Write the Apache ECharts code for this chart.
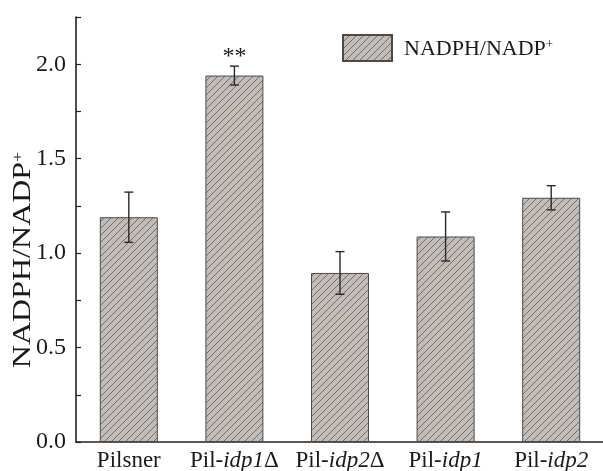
<!DOCTYPE html>
<html>
<head>
<meta charset="utf-8">
<script src="https://cdn.jsdelivr.net/npm/echarts@6/dist/echarts.min.js"></script>
<style>
html, body { margin: 0; padding: 0; background: #fff; }
#main { width: 603px; height: 471px; }
</style>
</head>
<body>
<div id="main"></div>
<script>
// strains on the x axis
var strains = ['Pilsner', 'Pil-{i|idp1}Δ', 'Pil-{i|idp2}Δ', 'Pil-{i|idp1}', 'Pil-{i|idp2}'];
// NADPH/NADP+ ratio, mean and error
var ratio = [1.19, 1.94, 0.895, 1.088, 1.293];
var ratioErr = [0.133, 0.05, 0.113, 0.13, 0.064];
// significance mark above error bar
var marks = ['', '**', '', '', ''];
var yTicks = [0, 0.5, 1.0, 1.5, 2.0];

var font = "'Liberation Serif', 'Times New Roman', serif";

// hatch pattern for the bars
var cv = document.createElement('canvas');
cv.width = 7; cv.height = 7;
var ctx = cv.getContext('2d');
ctx.fillStyle = '#c2bcb8';
ctx.fillRect(0, 0, 7, 7);
ctx.strokeStyle = '#6a6360';
ctx.lineWidth = 0.9;
ctx.beginPath();
ctx.moveTo(-1, 8); ctx.lineTo(8, -1);
ctx.moveTo(-1, 1); ctx.lineTo(1, -1);
ctx.moveTo(6, 8); ctx.lineTo(8, 6);
ctx.stroke();

var errData = [];
for (var i = 0; i < ratio.length; i++) {
  errData.push([i, ratio[i] - ratioErr[i], ratio[i] + ratioErr[i], marks[i]]);
}

var myChart = echarts.init(document.getElementById('main'));
myChart.setOption({
  animation: false,
  textStyle: { fontFamily: font },
  grid: { left: 76, right: -1, top: 17, bottom: 29, outerBoundsMode: 'none', containLabel: false },
  graphic: [{
    type: 'text',
    x: 23, y: 260,
    rotation: Math.PI / 2,
    scaleX: 1.28,
    style: {
      text: 'NADPH/NADP{sup|+}',
      fontFamily: font, fontSize: 25, fill: '#1a1a1a',
      align: 'center', verticalAlign: 'middle',
      rich: { sup: { fontFamily: font, fontSize: 14, fill: '#1a1a1a', padding: [0, 0, 10, 0] } }
    }
  }],
  legend: {
    left: 342, top: 34, padding: 0,
    itemWidth: 49, itemHeight: 26, itemGap: 10,
    icon: 'rect',
    data: ['ratio'],
    formatter: function () { return 'NADPH/NADP{sup|+}'; },
    textStyle: {
      fontFamily: font, fontSize: 22, color: '#1a1a1a', padding: [2, 0, 0, 7],
      rich: { sup: { fontFamily: font, fontSize: 13, color: '#1a1a1a', padding: [0, 0, 9, 0] } }
    }
  },
  xAxis: {
    type: 'category',
    data: strains,
    axisLine: { lineStyle: { color: '#222', width: 1.6 } },
    axisTick: { inside: true, alignWithLabel: true, length: 5, lineStyle: { color: '#222', width: 1.2 } },
    axisLabel: {
      interval: 0, hideOverlap: false,
      margin: 7, fontFamily: font, fontSize: 23, color: '#1a1a1a',
      rich: { i: { fontFamily: font, fontSize: 23, fontStyle: 'italic', color: '#1a1a1a' } }
    },
    splitLine: { show: false }
  },
  yAxis: {
    type: 'value',
    min: 0, max: 2.25, interval: 0.25,
    axisLine: { show: true, lineStyle: { color: '#222', width: 1.6 } },
    axisTick: { show: true, inside: true, length: 5, lineStyle: { color: '#222', width: 1.2 } },
    axisLabel: {
      margin: 10, fontFamily: font, fontSize: 24, color: '#1a1a1a',
      formatter: function (v) {
        for (var k = 0; k < yTicks.length; k++) {
          if (Math.abs(v - yTicks[k]) < 1e-6) return yTicks[k].toFixed(1);
        }
        return '';
      }
    },
    splitLine: { show: false }
  },
  series: [
    {
      name: 'ratio',
      type: 'bar',
      data: ratio,
      barWidth: 58,
      itemStyle: { color: { image: cv, repeat: 'repeat' }, borderColor: '#4d4a48', borderWidth: 1 }
    },
    {
      type: 'custom',
      data: errData,
      z: 10,
      renderItem: function (params, api) {
        var lo = api.coord([api.value(0), api.value(1)]);
        var hi = api.coord([api.value(0), api.value(2)]);
        var cap = 4.5;
        var st = { stroke: '#2a2a2a', lineWidth: 1.4 };
        var kids = [
          { type: 'line', shape: { x1: lo[0], y1: lo[1], x2: hi[0], y2: hi[1] }, style: st },
          { type: 'line', shape: { x1: lo[0] - cap, y1: lo[1], x2: lo[0] + cap, y2: lo[1] }, style: st },
          { type: 'line', shape: { x1: hi[0] - cap, y1: hi[1], x2: hi[0] + cap, y2: hi[1] }, style: st }
        ];
        var m = errData[params.dataIndex][3];
        if (m) {
          kids.push({
            type: 'text', x: hi[0], y: hi[1] - 9,
            style: { text: m, fontFamily: font, fontSize: 24, fill: '#1a1a1a', align: 'center', verticalAlign: 'middle' }
          });
        }
        return { type: 'group', children: kids };
      }
    }
  ]
});
</script>
</body>
</html>
